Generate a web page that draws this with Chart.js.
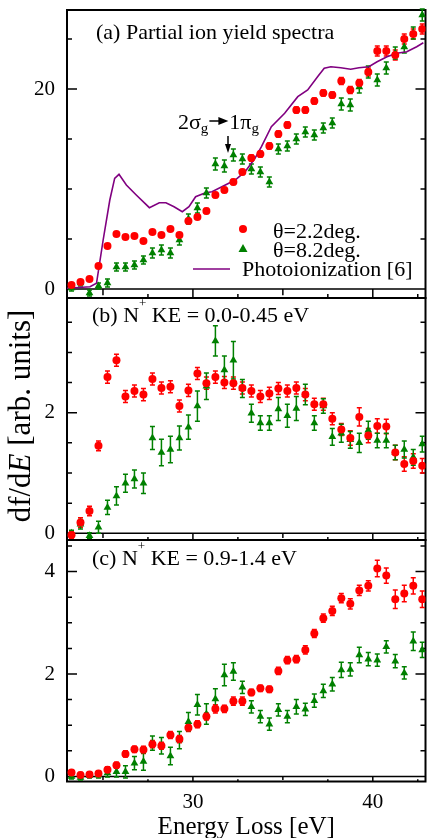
<!DOCTYPE html>
<html>
<head>
<meta charset="utf-8">
<script src="https://cdn.jsdelivr.net/npm/chart.js@4.4.0/dist/chart.umd.min.js"></script>
<style>
  html, body { margin: 0; padding: 0; background: #fff; overflow: hidden; width: 427px; height: 838px; }
  canvas { position: absolute; left: 0; }
</style>
</head>
<body>
<canvas id="chart-a" width="430" height="305" style="top:0"></canvas>
<canvas id="chart-b" width="430" height="256" style="top:291px"></canvas>
<canvas id="chart-c" width="430" height="305" style="top:533px"></canvas>
<script>
/* Три панели: (a) выход ионов, (b) N+ KE 0.0-0.45 eV, (c) N+ KE 0.9-1.4 eV */

// Общая ось энергий (eV), шаг 0.5
const energy = [23.25, 23.75, 24.25, 24.75, 25.25, 25.75, 26.25, 26.75, 27.25, 27.75,
                28.25, 28.75, 29.25, 29.75, 30.25, 30.75, 31.25, 31.75, 32.25, 32.75,
                33.25, 33.75, 34.25, 34.75, 35.25, 35.75, 36.25, 36.75, 37.25, 37.75,
                38.25, 38.75, 39.25, 39.75, 40.25, 40.75, 41.25, 41.75, 42.25, 42.75];

// (a) Partial ion yield
const yieldRed = [0.4, 0.7, 1.0, 2.3, 4.3, 5.5, 5.2, 5.3, 4.8, 5.7,
                  5.4, 6.0, 5.4, 6.8, 7.2, 7.8, 9.4, 9.9, 10.7, 11.7,
                  13.1, 13.5, 14.3, 15.5, 16.4, 17.9, 17.9, 18.8, 19.6, 19.4,
                  20.8, 19.9, 20.6, 21.7, 23.8, 23.8, 23.4, 25.0, 25.5, 26.0];
const yieldRedErr = [0.2, 0.2, 0.2, 0.2, 0.2, 0.2, 0.2, 0.2, 0.2, 0.2,
                     0.2, 0.2, 0.2, 0.2, 0.2, 0.25, 0.25, 0.25, 0.25, 0.25,
                     0.3, 0.3, 0.3, 0.3, 0.3, 0.3, 0.3, 0.3, 0.3, 0.3,
                     0.35, 0.35, 0.35, 0.4, 0.5, 0.5, 0.5, 0.5, 0.5, 0.5];
const yieldGreen = [0.1, 0.6, -0.4, 0.3, 0.6, 2.2, 2.2, 2.4, 2.9, 3.6,
                    3.9, 3.6, 4.9, 7.0, 8.1, 9.6, 12.5, 12.3, 13.4, 13.0,
                    12.0, 11.7, 10.7, 14.0, 14.3, 15.0, 15.7, 15.4, 16.1, 16.6,
                    18.5, 18.4, 20.2, 21.7, 20.9, 22.1, 23.6, 24.2, 25.6, 27.4];
const yieldGreenErr = [0.3, 0.3, 0.3, 0.3, 0.4, 0.4, 0.4, 0.4, 0.4, 0.5,
                       0.5, 0.5, 0.5, 0.5, 0.5, 0.5, 0.6, 0.6, 0.6, 0.5,
                       0.5, 0.5, 0.5, 0.5, 0.5, 0.5, 0.5, 0.5, 0.5, 0.5,
                       0.6, 0.6, 0.6, 0.6, 0.6, 0.6, 0.6, 0.6, 0.6, 0.6];
// Photoionization [6]
const photoEnergy = [23.0, 24.28, 24.64, 25.01, 25.38, 25.65, 25.89, 26.30, 26.85, 27.58,
                     28.13, 28.50, 28.95, 29.41, 29.78, 30.15, 30.70, 31.06, 31.61, 32.35,
                     32.90, 33.45, 33.81, 34.36, 35.10, 35.83, 36.38, 36.93, 37.30, 37.67,
                     38.22, 38.77, 39.23, 39.78, 40.24, 40.79, 41.34, 41.89, 42.44, 42.81];
const photoYield = [0.07, 0.23, 0.57, 4.9, 8.9, 11.07, 11.47, 10.4, 9.4, 8.13,
                    8.63, 8.63, 8.23, 7.73, 8.23, 9.23, 9.63, 9.73, 10.23, 10.9,
                    11.73, 13.07, 14.23, 16.23, 17.57, 19.23, 19.9, 21.23, 22.07, 22.23,
                    22.13, 21.97, 22.13, 22.23, 22.73, 23.23, 23.57, 23.73, 24.23, 24.63];

// (b) N+ KE = 0.0-0.45 eV
const lowKeRed = [-0.03, 0.18, 0.37, 1.45, 2.59, 2.87, 2.27, 2.36, 2.30, 2.56,
                  2.41, 2.43, 2.11, 2.37, 2.65, 2.49, 2.59, 2.50, 2.49, 2.41,
                  2.36, 2.27, 2.32, 2.40, 2.36, 2.41, 2.30, 2.14, 2.14, 1.90,
                  1.72, 1.58, 1.93, 1.62, 1.78, 1.77, 1.34, 1.15, 1.20, 1.12];
const lowKeRedErr = [0.06, 0.08, 0.08, 0.08, 0.1, 0.1, 0.1, 0.1, 0.1, 0.1,
                     0.1, 0.1, 0.1, 0.1, 0.1, 0.1, 0.1, 0.1, 0.1, 0.1,
                     0.1, 0.1, 0.1, 0.1, 0.1, 0.1, 0.1, 0.1, 0.1, 0.1,
                     0.1, 0.12, 0.15, 0.12, 0.12, 0.12, 0.12, 0.12, 0.12, 0.12];
const lowKeGreen = [0.0, 0.15, -0.04, 0.10, 0.43, 0.62, 0.83, 0.90, 0.83, 1.58,
                    1.34, 1.39, 1.58, 1.76, 2.11, 2.44, 3.19, 2.71, 2.87, 2.40,
                    1.99, 1.83, 1.83, 2.06, 1.95, 2.07, 2.30, 1.83, 2.11, 1.60,
                    1.66, 1.55, 1.50, 1.71, 1.54, 1.54, 1.34, 1.39, 1.26, 1.48];
const lowKeGreenErr = [0.05, 0.08, 0.05, 0.1, 0.12, 0.15, 0.15, 0.15, 0.17, 0.19,
                       0.22, 0.22, 0.2, 0.2, 0.25, 0.22, 0.25, 0.23, 0.31, 0.15,
                       0.15, 0.12, 0.12, 0.19, 0.19, 0.2, 0.17, 0.12, 0.12, 0.14,
                       0.15, 0.14, 0.16, 0.15, 0.12, 0.12, 0.12, 0.14, 0.13, 0.13];

// (c) N+ KE = 0.9-1.4 eV
const highKeRed = [0.08, 0.03, 0.04, 0.06, 0.13, 0.22, 0.44, 0.53, 0.52, 0.63,
                   0.60, 0.81, 0.73, 0.95, 1.02, 1.17, 1.32, 1.32, 1.47, 1.47,
                   1.64, 1.72, 1.70, 2.06, 2.27, 2.29, 2.47, 2.79, 3.09, 3.23,
                   3.48, 3.37, 3.63, 3.72, 4.06, 3.92, 3.46, 3.57, 3.72, 3.46];
const highKeRedErr = [0.05, 0.05, 0.05, 0.05, 0.06, 0.06, 0.06, 0.06, 0.07, 0.07,
                      0.07, 0.07, 0.07, 0.07, 0.07, 0.07, 0.08, 0.07, 0.08, 0.08,
                      0.06, 0.06, 0.06, 0.07, 0.07, 0.07, 0.08, 0.08, 0.08, 0.09,
                      0.09, 0.1, 0.1, 0.1, 0.16, 0.15, 0.18, 0.16, 0.16, 0.16];
const highKeGreen = [0.0, -0.02, 0.02, 0.03, 0.07, 0.09, 0.09, 0.26, 0.29, 0.65,
                     0.60, 0.40, 0.71, 1.07, 1.40, 1.22, 1.51, 1.98, 2.05, 1.74,
                     1.36, 1.17, 1.02, 1.30, 1.17, 1.36, 1.31, 1.48, 1.67, 1.80,
                     2.08, 2.09, 2.37, 2.29, 2.27, 2.53, 2.25, 2.02, 2.64, 2.47];
const highKeGreenErr = [0.05, 0.05, 0.05, 0.06, 0.08, 0.1, 0.12, 0.13, 0.17, 0.14,
                        0.16, 0.17, 0.17, 0.18, 0.2, 0.2, 0.2, 0.21, 0.17, 0.12,
                        0.12, 0.12, 0.12, 0.12, 0.12, 0.14, 0.12, 0.13, 0.13, 0.13,
                        0.15, 0.13, 0.15, 0.13, 0.12, 0.12, 0.13, 0.12, 0.18, 0.15];

const FONT = '"Liberation Serif", "Times New Roman", serif';
const RED = '#ff0000';
const GREEN = '#008000';
const PURPLE = '#800080';

function pts(xs, ys) {
    return xs.map((x, i) => ({ x: x, y: ys[i] }));
}

function redSet(ys, errs) {
    return { type: 'scatter', data: pts(energy, ys), errors: errs,
             pointStyle: 'circle', pointRadius: 4, backgroundColor: RED, borderColor: RED, borderWidth: 0 };
}
function greenSet(ys, errs) {
    return { type: 'scatter', data: pts(energy, ys), errors: errs,
             pointStyle: 'triangle', pointRadius: 4.5, backgroundColor: GREEN, borderColor: GREEN, borderWidth: 0 };
}

// Рамка, нулевая линия и засечки внутрь
const frame = {
    id: 'frame',
    beforeDatasetsDraw(chart) {
        const { ctx, chartArea: a, scales: { x, y } } = chart;
        ctx.save();
        ctx.strokeStyle = '#000';
        ctx.lineWidth = 1.5;
        ctx.beginPath();
        y.ticks.forEach(t => {
            const py = y.getPixelForValue(t.value);
            const len = t.label !== '' ? 10 : 5;
            ctx.moveTo(a.left, py); ctx.lineTo(a.left + len, py);
            ctx.moveTo(a.right, py); ctx.lineTo(a.right - len, py);
        });
        const y0 = y.getPixelForValue(0);
        ctx.moveTo(a.left, y0); ctx.lineTo(a.right, y0);
        const gap = a.bottom - y0;
        x.ticks.forEach(t => {
            const px = x.getPixelForValue(t.value);
            if (t.value % 10 === 0) { ctx.moveTo(px, y0); ctx.lineTo(px, a.bottom); }
            else if (t.value % 5 === 0) { ctx.moveTo(px, y0); ctx.lineTo(px, y0 + gap * 0.7); }
            else { ctx.moveTo(px, a.bottom); ctx.lineTo(px, a.bottom - gap * 0.45); }
        });
        ctx.stroke();
        ctx.lineWidth = 2;
        ctx.strokeRect(a.left, a.top, a.right - a.left, a.bottom - a.top);
        ctx.restore();
    }
};

// Планки погрешностей
const errorBars = {
    id: 'errorBars',
    beforeDatasetsDraw(chart) {
        const { ctx, scales: { x, y } } = chart;
        chart.data.datasets.forEach(ds => {
            if (!ds.errors) return;
            ctx.save();
            ctx.strokeStyle = ds.backgroundColor;
            ctx.lineWidth = 1.5;
            ctx.beginPath();
            ds.data.forEach((p, i) => {
                const e = ds.errors[i];
                const px = x.getPixelForValue(p.x);
                const top = y.getPixelForValue(p.y + e);
                const bot = y.getPixelForValue(p.y - e);
                ctx.moveTo(px, top); ctx.lineTo(px, bot);
                ctx.moveTo(px - 2.5, top); ctx.lineTo(px + 2.5, top);
                ctx.moveTo(px - 2.5, bot); ctx.lineTo(px + 2.5, bot);
            });
            ctx.stroke();
            ctx.restore();
        });
    }
};

// Текст из нескольких кусков (индексы, курсив)
function drawParts(ctx, x, y, parts) {
    let cx = x;
    parts.forEach(p => {
        ctx.font = (p.style || 'normal') + ' ' + p.size + 'px ' + FONT;
        ctx.fillText(p.t, cx, y + (p.dy || 0));
        cx += ctx.measureText(p.t).width;
    });
    return cx;
}

function textPlugin(draw) {
    return {
        id: 'text',
        afterDatasetsDraw(chart) {
            const ctx = chart.ctx;
            ctx.save();
            ctx.fillStyle = '#000';
            ctx.strokeStyle = '#000';
            ctx.textBaseline = 'alphabetic';
            ctx.textAlign = 'left';
            draw(ctx);
            ctx.restore();
        }
    };
}

// ширина оси Y фиксирована, поля под крайние подписи убираем
function fitY(s) {
    s.width = 67;
    s.paddingTop = 0; s.paddingBottom = 0; s.paddingLeft = 0; s.paddingRight = 0;
}

function yScale(min, max, step, labels) {
    return {
        type: 'linear', min: min, max: max,
        afterFit: fitY,
        grid: { display: false, drawTicks: false },
        border: { display: false },
        ticks: { stepSize: step, includeBounds: false, autoSkip: false, padding: 12, color: '#000',
                 font: { family: FONT, size: 21 },
                 callback: v => labels.includes(v) ? String(v) : '' }
    };
}

function xHidden() {
    return {
        type: 'linear', min: 23.0, max: 42.93,
        afterFit: s => { s.height = 0; s.paddingLeft = 0; s.paddingRight = 0; s.paddingTop = 0; s.paddingBottom = 0; },
        grid: { display: false, drawTicks: false },
        border: { display: false },
        ticks: { display: false, stepSize: 2.5, includeBounds: false, autoSkip: false }
    };
}

function baseOptions(scales, pad) {
    return {
        responsive: false, animation: false, events: [],
        layout: { padding: pad },
        scales: scales,
        plugins: { legend: { display: false }, tooltip: { enabled: false } }
    };
}

// (a)
new Chart(document.getElementById('chart-a'), {
    data: { datasets: [
        redSet(yieldRed, yieldRedErr),
        greenSet(yieldGreen, yieldGreenErr),
        { type: 'line', data: pts(photoEnergy, photoYield), borderColor: PURPLE, borderWidth: 1.6,
          pointRadius: 0, tension: 0, fill: false }
    ] },
    options: baseOptions({ x: xHidden(), y: yScale(-0.9, 27.9, 5, [0, 20]) },
                         { left: 0, right: 1, top: 10, bottom: 7 }),
    plugins: [frame, errorBars, textPlugin(ctx => {
        drawParts(ctx, 96, 39, [{ t: '(a) Partial ion yield spectra', size: 22 }]);
        // 2σg → 1πg
        let cx = drawParts(ctx, 178, 129, [{ t: '2σ', size: 22 }, { t: 'g', size: 15, dy: 4 }]);
        ctx.lineWidth = 1.5;
        ctx.beginPath(); ctx.moveTo(cx + 1, 121); ctx.lineTo(cx + 12, 121); ctx.stroke();
        ctx.beginPath(); ctx.moveTo(cx + 20, 121); ctx.lineTo(cx + 10, 117); ctx.lineTo(cx + 10, 125); ctx.closePath(); ctx.fill();
        drawParts(ctx, cx + 21, 129, [{ t: '1π', size: 22 }, { t: 'g', size: 15, dy: 4 }]);
        ctx.beginPath(); ctx.moveTo(228, 136); ctx.lineTo(228, 146); ctx.stroke();
        ctx.beginPath(); ctx.moveTo(228, 153); ctx.lineTo(225, 144); ctx.lineTo(231, 144); ctx.closePath(); ctx.fill();
        // легенда
        ctx.fillStyle = RED;
        ctx.beginPath(); ctx.arc(243, 229, 4, 0, Math.PI * 2); ctx.fill();
        ctx.fillStyle = GREEN;
        ctx.beginPath(); ctx.moveTo(243, 244); ctx.lineTo(247.5, 252); ctx.lineTo(238.5, 252); ctx.closePath(); ctx.fill();
        ctx.strokeStyle = PURPLE; ctx.lineWidth = 1.6;
        ctx.beginPath(); ctx.moveTo(193, 269); ctx.lineTo(230, 269); ctx.stroke();
        ctx.fillStyle = '#000';
        drawParts(ctx, 273, 238, [{ t: 'θ=2.2deg.', size: 22 }]);
        drawParts(ctx, 273, 257, [{ t: 'θ=8.2deg.', size: 22 }]);
        drawParts(ctx, 242, 276, [{ t: 'Photoionization [6]', size: 22 }]);
    })]
});

// (b)
new Chart(document.getElementById('chart-b'), {
    data: { datasets: [redSet(lowKeRed, lowKeRedErr), greenSet(lowKeGreen, lowKeGreenErr)] },
    options: baseOptions({ x: xHidden(), y: yScale(-0.111, 3.902, 0.5, [0, 2]) },
                         { left: 0, right: 1, top: 7, bottom: 7 }),
    plugins: [frame, errorBars, textPlugin(ctx => {
        drawParts(ctx, 92, 31, [{ t: '(b) N', size: 22 }, { t: '+', size: 13, dy: -15 },
                                { t: ' KE = 0.0-0.45 eV', size: 22 }]);
        // подпись оси Y (общая для трёх панелей)
        ctx.translate(22, 125);
        ctx.rotate(-Math.PI / 2);
        ctx.textBaseline = 'middle';
        const parts = [{ t: 'df/d', size: 31 }, { t: 'E', size: 31, style: 'italic' }, { t: ' [arb. units]', size: 31 }];
        let w = 0;
        parts.forEach(p => { ctx.font = (p.style || 'normal') + ' ' + p.size + 'px ' + FONT; w += ctx.measureText(p.t).width; });
        drawParts(ctx, -w / 2, 0, parts);
    })]
});

// (c)
new Chart(document.getElementById('chart-c'), {
    data: { datasets: [redSet(highKeRed, highKeRedErr), greenSet(highKeGreen, highKeGreenErr)] },
    options: baseOptions({
        x: {
            type: 'linear', min: 23.0, max: 42.93,
            afterFit: s => { s.height = 56.5; s.paddingLeft = 0; s.paddingRight = 0; },
            grid: { display: false, drawTicks: false },
            border: { display: false },
            ticks: { stepSize: 2.5, includeBounds: false, autoSkip: false, maxRotation: 0, padding: 8,
                     color: '#000', font: { family: FONT, size: 21 },
                     callback: v => (v === 30 || v === 40) ? String(v) : '' },
            title: { display: true, text: 'Energy Loss [eV]', color: '#000',
                     font: { family: FONT, size: 25, lineHeight: 1 }, padding: { top: 0, bottom: -2 } }
        },
        y: yScale(-0.098, 4.615, 0.5, [0, 2, 4])
    }, { left: 0, right: 1, top: 7, bottom: 0 }),
    plugins: [frame, errorBars, textPlugin(ctx => {
        drawParts(ctx, 92, 31.5, [{ t: '(c) N', size: 22 }, { t: '+', size: 13, dy: -15 },
                                  { t: ' KE = 0.9-1.4 eV', size: 22 }]);
    })]
});
</script>
</body>
</html>
